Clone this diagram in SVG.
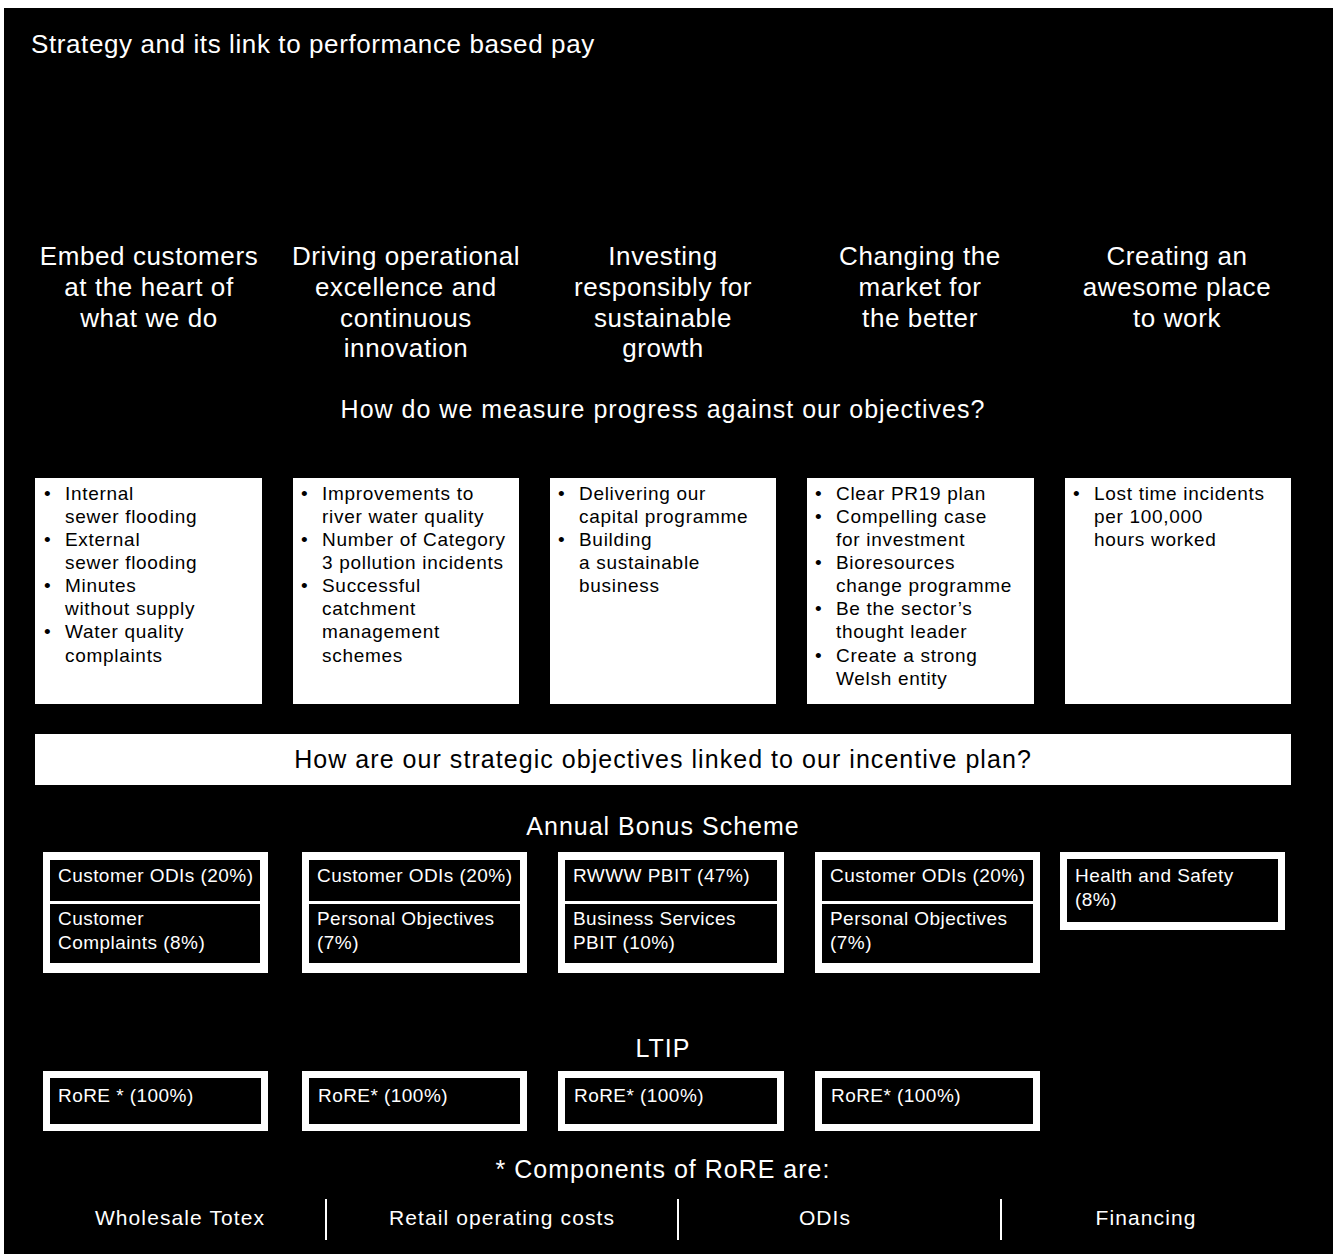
<svg xmlns="http://www.w3.org/2000/svg" width="1333" height="1254" viewBox="0 0 1333 1254">
<style>
text{font-family:"Liberation Sans",Arial,sans-serif;}
.t{fill:#fff;font-size:26px;letter-spacing:0.6px;}
.h{fill:#fff;font-size:26px;letter-spacing:0.6px;text-anchor:middle;}
.q{fill:#fff;font-size:25px;letter-spacing:1px;text-anchor:middle;}
.b{fill:#000;font-size:19px;letter-spacing:0.7px;}
.w{fill:#fff;font-size:19px;letter-spacing:0.45px;}
.c{fill:#fff;font-size:21px;letter-spacing:1.1px;text-anchor:middle;}
.box{fill:#fff;}
.in{fill:#000;}
</style>
<rect x="0" y="0" width="1333" height="1254" fill="#fff"/>
<rect x="4" y="8" width="1329" height="1246" fill="#000"/>
<text class="t" x="31" y="53">Strategy and its link to performance based pay</text>

<g id="obj1"><text class="h" x="149" y="265">Embed customers</text><text class="h" x="149" y="296">at the heart of</text><text class="h" x="149" y="327">what we do</text></g>
<g id="obj2"><text class="h" x="406" y="265">Driving operational</text><text class="h" x="406" y="296">excellence and</text><text class="h" x="406" y="327">continuous</text><text class="h" x="406" y="357">innovation</text></g>
<g id="obj3"><text class="h" x="663" y="265">Investing</text><text class="h" x="663" y="296">responsibly for</text><text class="h" x="663" y="327">sustainable</text><text class="h" x="663" y="357">growth</text></g>
<g id="obj4"><text class="h" x="920" y="265">Changing the</text><text class="h" x="920" y="296">market for</text><text class="h" x="920" y="327">the better</text></g>
<g id="obj5"><text class="h" x="1177" y="265">Creating an</text><text class="h" x="1177" y="296">awesome place</text><text class="h" x="1177" y="327">to work</text></g>

<text class="q" x="663" y="418">How do we measure progress against our objectives?</text>

<g id="measure1"><rect class="box" x="35" y="478" width="227" height="226"/>
<text class="b" x="44" y="500">•</text><text class="b" x="65" y="500">Internal</text><text class="b" x="65" y="523">sewer flooding</text>
<text class="b" x="44" y="546">•</text><text class="b" x="65" y="546">External</text><text class="b" x="65" y="569">sewer flooding</text>
<text class="b" x="44" y="592">•</text><text class="b" x="65" y="592">Minutes</text><text class="b" x="65" y="615">without supply</text>
<text class="b" x="44" y="638">•</text><text class="b" x="65" y="638">Water quality</text><text class="b" x="65" y="662">complaints</text></g>
<g id="measure2"><rect class="box" x="293" y="478" width="226" height="226"/>
<text class="b" x="301" y="500">•</text><text class="b" x="322" y="500">Improvements to</text><text class="b" x="322" y="523">river water quality</text>
<text class="b" x="301" y="546">•</text><text class="b" x="322" y="546">Number of Category</text><text class="b" x="322" y="569">3 pollution incidents</text>
<text class="b" x="301" y="592">•</text><text class="b" x="322" y="592">Successful</text><text class="b" x="322" y="615">catchment</text><text class="b" x="322" y="638">management</text><text class="b" x="322" y="662">schemes</text></g>
<g id="measure3"><rect class="box" x="550" y="478" width="226" height="226"/>
<text class="b" x="558" y="500">•</text><text class="b" x="579" y="500">Delivering our</text><text class="b" x="579" y="523">capital programme</text>
<text class="b" x="558" y="546">•</text><text class="b" x="579" y="546">Building</text><text class="b" x="579" y="569">a sustainable</text><text class="b" x="579" y="592">business</text></g>
<g id="measure4"><rect class="box" x="807" y="478" width="227" height="226"/>
<text class="b" x="815" y="500">•</text><text class="b" x="836" y="500">Clear PR19 plan</text>
<text class="b" x="815" y="523">•</text><text class="b" x="836" y="523">Compelling case</text><text class="b" x="836" y="546">for investment</text>
<text class="b" x="815" y="569">•</text><text class="b" x="836" y="569">Bioresources</text><text class="b" x="836" y="592">change programme</text>
<text class="b" x="815" y="615">•</text><text class="b" x="836" y="615">Be the sector’s</text><text class="b" x="836" y="638">thought leader</text>
<text class="b" x="815" y="662">•</text><text class="b" x="836" y="662">Create a strong</text><text class="b" x="836" y="685">Welsh entity</text></g>
<g id="measure5"><rect class="box" x="1065" y="478" width="226" height="226"/>
<text class="b" x="1073" y="500">•</text><text class="b" x="1094" y="500">Lost time incidents</text><text class="b" x="1094" y="523">per 100,000</text><text class="b" x="1094" y="546">hours worked</text></g>

<g id="linkbar"><rect class="box" x="35" y="734" width="1256" height="51"/>
<text class="q" x="663" y="768" style="fill:#000;letter-spacing:1.05px">How are our strategic objectives linked to our incentive plan?</text></g>

<text class="q" x="663" y="835">Annual Bonus Scheme</text>

<g id="bonus1"><rect class="box" x="43" y="852" width="225" height="121"/>
<rect class="in" x="50" y="860" width="210" height="41"/><rect class="in" x="50" y="904" width="210" height="59"/>
<text class="w" x="58" y="882">Customer ODIs (20%)</text><text class="w" x="58" y="925">Customer</text><text class="w" x="58" y="949">Complaints (8%)</text></g>
<g id="bonus2"><rect class="box" x="302" y="852" width="225" height="121"/>
<rect class="in" x="309" y="860" width="211" height="41"/><rect class="in" x="309" y="904" width="211" height="59"/>
<text class="w" x="317" y="882">Customer ODIs (20%)</text><text class="w" x="317" y="925">Personal Objectives</text><text class="w" x="317" y="949">(7%)</text></g>
<g id="bonus3"><rect class="box" x="558" y="852" width="226" height="121"/>
<rect class="in" x="565" y="860" width="212" height="41"/><rect class="in" x="565" y="904" width="212" height="59"/>
<text class="w" x="573" y="882">RWWW PBIT (47%)</text><text class="w" x="573" y="925">Business Services</text><text class="w" x="573" y="949">PBIT (10%)</text></g>
<g id="bonus4"><rect class="box" x="815" y="852" width="225" height="121"/>
<rect class="in" x="822" y="860" width="211" height="41"/><rect class="in" x="822" y="904" width="211" height="59"/>
<text class="w" x="830" y="882">Customer ODIs (20%)</text><text class="w" x="830" y="925">Personal Objectives</text><text class="w" x="830" y="949">(7%)</text></g>
<g id="bonus5"><rect class="box" x="1060" y="852" width="225" height="78"/>
<rect class="in" x="1067" y="859" width="211" height="63"/>
<text class="w" x="1075" y="882">Health and Safety</text><text class="w" x="1075" y="906">(8%)</text></g>

<text class="q" x="663" y="1057">LTIP</text>

<g id="ltip1"><rect class="box" x="43" y="1071" width="225" height="60"/><rect class="in" x="50" y="1078" width="211" height="46"/><text class="w" x="58" y="1102">RoRE * (100%)</text></g>
<g id="ltip2"><rect class="box" x="302" y="1071" width="225" height="60"/><rect class="in" x="309" y="1078" width="211" height="46"/><text class="w" x="318" y="1102">RoRE* (100%)</text></g>
<g id="ltip3"><rect class="box" x="558" y="1071" width="226" height="60"/><rect class="in" x="565" y="1078" width="212" height="46"/><text class="w" x="574" y="1102">RoRE* (100%)</text></g>
<g id="ltip4"><rect class="box" x="815" y="1071" width="225" height="60"/><rect class="in" x="822" y="1078" width="211" height="46"/><text class="w" x="831" y="1102">RoRE* (100%)</text></g>

<text class="q" x="663" y="1178">* Components of RoRE are:</text>

<g id="components">
<text class="c" x="180" y="1225">Wholesale Totex</text>
<text class="c" x="502" y="1225">Retail operating costs</text>
<text class="c" x="825" y="1225">ODIs</text>
<text class="c" x="1146" y="1225">Financing</text>
</g>
<g id="connectors" stroke="#fff" stroke-width="2">
<line x1="326" y1="1199" x2="326" y2="1240"/>
<line x1="678" y1="1199" x2="678" y2="1240"/>
<line x1="1001" y1="1199" x2="1001" y2="1240"/>
</g>
</svg>
